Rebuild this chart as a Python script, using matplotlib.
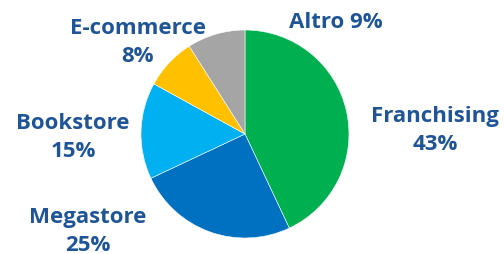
import matplotlib
matplotlib.use('Agg')
import matplotlib.pyplot as plt

# Dati del grafico
categorie = ['Franchising', 'Megastore', 'Bookstore', 'E-commerce', 'Altro']
valori = [43, 25, 15, 8, 9]
colori = ['#00B050', '#0070C0', '#00B0F0', '#FFC000', '#A5A5A5']

# Testi delle etichette (posizione = centro x, linea di base dell'ultima riga)
etichette = ['Franchising\n43%', 'Megastore\n25%', 'Bookstore\n15%', 'E-commerce\n8%', 'Altro 9%']
pos_etichette = [(435, 150), (88, 251), (73, 157), (138, 62), (336, 28)]

fig = plt.figure(figsize=(5.04, 2.55), dpi=100)
ax = fig.add_axes([0, 0, 1, 1])

# asse y invertito: startangle=-90 corrisponde alla cima, e il verso risulta orario
ax.pie(valori, colors=colori, startangle=-90, counterclock=True,
       center=(245, 135), radius=104,
       wedgeprops=dict(edgecolor='white', linewidth=0.4))
ax.set_xlim(0, 504)
ax.set_ylim(255, 0)
ax.set_aspect('equal')
ax.axis('off')

for testo, (x, y) in zip(etichette, pos_etichette):
    ax.text(x, y, testo, ha='center', va='baseline', fontsize=16,
            fontweight='bold', family='Open Sans', color='#1F5597',
            linespacing=1.43)

plt.savefig('out.png', dpi=100)
plt.close()
